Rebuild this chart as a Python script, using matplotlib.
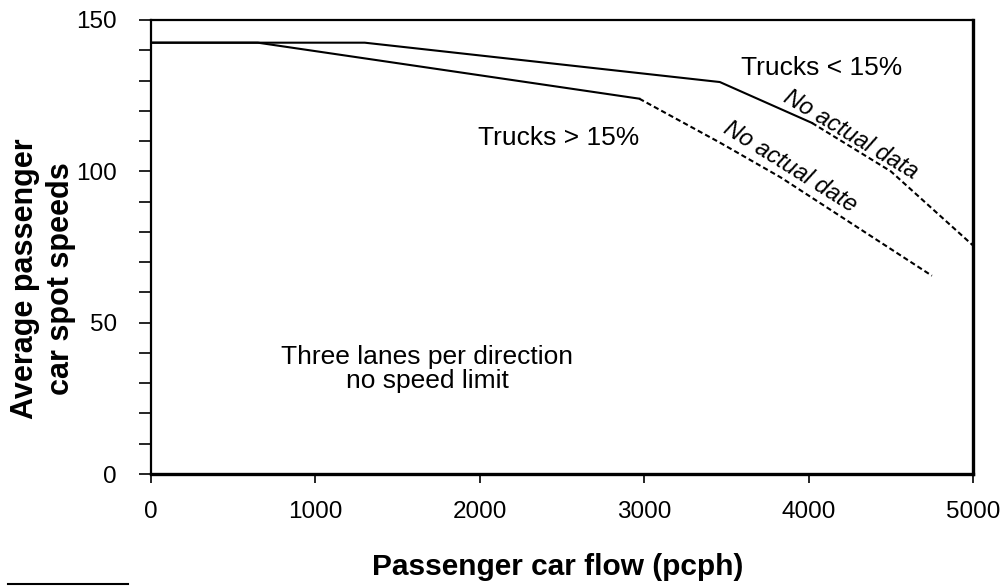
import matplotlib.pyplot as plt
from matplotlib.lines import Line2D
from matplotlib.ticker import MultipleLocator

# Trucks < 15%: measured part (solid) and extrapolated part (dashed)
low_trucks_flow = [0, 1300, 3460, 4020]
low_trucks_speed = [142.5, 142.5, 129.5, 116]
low_trucks_ext_flow = [4020, 4500, 5000]
low_trucks_ext_speed = [116, 100, 75.5]

# Trucks > 15%
high_trucks_flow = [0, 650, 2970]
high_trucks_speed = [142.5, 142.5, 124]
high_trucks_ext_flow = [2970, 3460, 3830, 4750]
high_trucks_ext_speed = [124, 109.5, 98, 65.5]

x_ticks = [0, 1000, 2000, 3000, 4000, 5000]
y_ticks = [0, 50, 100, 150]

plt.rcParams["font.family"] = ["Liberation Sans", "DejaVu Sans"]

fig = plt.figure(figsize=(10.08, 5.86), dpi=100)
ax = fig.add_axes([0.1498, 0.1911, 0.8155, 0.7748])

line_kw = dict(color="black", linewidth=1.5)
ax.plot(low_trucks_flow, low_trucks_speed, **line_kw)
ax.plot(low_trucks_ext_flow, low_trucks_ext_speed, linestyle=(0, (2.5, 1.5)), clip_on=False, **line_kw)
ax.plot(high_trucks_flow, high_trucks_speed, **line_kw)
ax.plot(high_trucks_ext_flow, high_trucks_ext_speed, linestyle=(0, (2.5, 1.5)), **line_kw)

ax.set_xlim(0, 5000)
ax.set_ylim(0, 150)
ax.set_xticks(x_ticks)
ax.set_yticks(y_ticks)
ax.yaxis.set_minor_locator(MultipleLocator(10))

ax.tick_params(axis="both", which="both", direction="out", colors="black", labelsize=17.5)
ax.tick_params(axis="y", which="both", length=8.6, width=1.2, pad=16)
ax.tick_params(axis="x", which="major", length=6.5, width=1.2, pad=13)

for side, lw in [("left", 1.6), ("bottom", 2.4), ("right", 2.4), ("top", 1.6)]:
    ax.spines[side].set_linewidth(lw)

ax.text(3590, 134, "Trucks < 15%", fontsize=19, va="center", ha="left")
ax.text(1990, 111, "Trucks > 15%", fontsize=19, va="center", ha="left")
ax.text(4258, 112, "No actual data", fontsize=17, style="italic",
        rotation=-31, rotation_mode="anchor", ha="center", va="center")
ax.text(3887, 101.5, "No actual date", fontsize=17, style="italic",
        rotation=-32, rotation_mode="anchor", ha="center", va="center")
ax.text(1679, 34.7, "Three lanes per direction\nno speed limit", fontsize=19,
        ha="center", va="center", linespacing=1.0)

fig.text(557.5 / 1008, 1 - 567 / 586, "Passenger car flow (pcph)", fontsize=21.5,
         fontweight="bold", ha="center", va="center")
fig.text(43 / 1008, 1 - 279 / 586, "Average passenger\ncar spot speeds", fontsize=22,
         fontweight="bold", ha="center", va="center", rotation=90, linespacing=1.3)

# short stray rule at the bottom left of the original figure
fig.add_artist(Line2D([8 / 1008, 128 / 1008], [1 - 584 / 586] * 2,
                      color="black", linewidth=1.5, transform=fig.transFigure))

fig.savefig("out.png", dpi=100)
